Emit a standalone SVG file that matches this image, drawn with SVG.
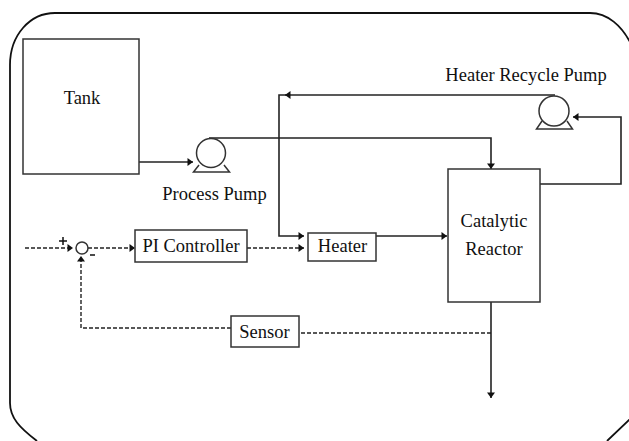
<svg xmlns="http://www.w3.org/2000/svg" width="629" height="441" viewBox="0 0 629 441">
<defs>
<marker id="arr" markerUnits="userSpaceOnUse" markerWidth="8" markerHeight="9" refX="6" refY="4.500" orient="auto"><path d="M0.500,0.500 L6,4.500 L0.500,8.500 Z" fill="#111"/></marker>
</defs>
<style>
.box{fill:#fff;stroke:#333;stroke-width:1.5}
.pump{fill:#fff;stroke:#333;stroke-width:1.5}
.solid{fill:none;stroke:#222;stroke-width:1.6}
.dash{fill:none;stroke:#222;stroke-width:1.4;stroke-dasharray:4 2}
text{font-family:"Liberation Serif","Times New Roman",serif;font-size:18.500px;fill:#111;text-anchor:middle}
</style>
<rect width="629" height="441" fill="#fff"/>
<path id="frame" d="M37,441 C20,428 10,418 10,403 L10,65 C10,35 30,13 55,13 L590,13 C607,13 622,25 632,46 L632,417 L607,441" fill="none" stroke="#111" stroke-width="1.8"/>
<g id="connectors">
<path class="solid" d="M139,162 H193" marker-end="url(#arr)"/>
<path class="solid" d="M209,138 H491 V169" marker-end="url(#arr)"/>
<path class="solid" d="M555,95 H285" marker-end="url(#arr)"/>
<path class="solid" d="M286,95 H279 V236 H304" marker-end="url(#arr)"/>
<path class="solid" d="M540,184 H621 V117 H573" marker-end="url(#arr)"/>
<path class="solid" d="M376,236 H447" marker-end="url(#arr)"/>
<path class="solid" d="M491,302 V398" marker-end="url(#arr)"/>
<path class="dash" d="M25,248 H73" marker-end="url(#arr)"/>
<path class="dash" d="M88,248 H135" marker-end="url(#arr)"/>
<path class="dash" d="M247,248 H304" marker-end="url(#arr)"/>
<path class="dash" d="M491,333 H299"/>
<path class="dash" d="M231,328 H81 V256" marker-end="url(#arr)"/>
<path d="M59,241 H67 M63,237 V245 M90,255 H95" fill="none" stroke="#111" stroke-width="1.500"/>
</g>
<g id="tank"><rect class="box" x="23" y="39" width="116" height="135"/><text x="82" y="104">Tank</text></g>
<g id="process-pump"><path class="pump" d="M199,165 L193.500,172 H229.500 L224,165"/><circle class="pump" cx="211" cy="153" r="14.500"/><text x="214.500" y="200">Process Pump</text></g>
<g id="recycle-pump"><path class="pump" d="M542,121 L536.500,129 H572.500 L567,121"/><circle class="pump" cx="554" cy="111" r="15"/><text x="526" y="81">Heater Recycle Pump</text></g>
<g id="summer"><circle class="pump" cx="82" cy="248" r="6"/></g>
<g id="pi-controller"><rect class="box" x="135" y="230" width="112" height="32"/><text x="191" y="252">PI Controller</text></g>
<g id="heater"><rect class="box" x="308" y="233" width="68" height="28"/><text x="342.500" y="252">Heater</text></g>
<g id="reactor"><rect class="box" x="448" y="169" width="92" height="133"/><text x="494" y="227">Catalytic</text><text x="494" y="255">Reactor</text></g>
<g id="sensor"><rect class="box" x="231" y="316" width="68" height="31"/><text x="264.500" y="338">Sensor</text></g>
</svg>
